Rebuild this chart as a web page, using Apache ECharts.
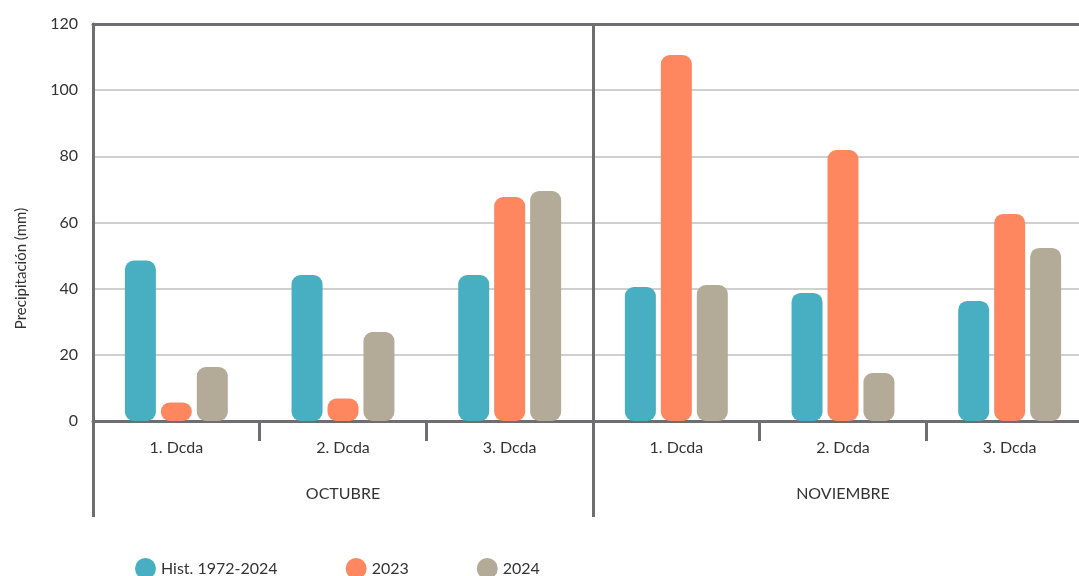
<!DOCTYPE html>
<html>
<head>
<meta charset="utf-8">
<script src="https://cdn.jsdelivr.net/npm/echarts@6/dist/echarts.min.js"></script>
<style>
  html, body { margin: 0; padding: 0; background: #fff; }
  #chart { width: 1079px; height: 576px; }
</style>
</head>
<body>
<div id="chart"></div>
<script>
// decadas por mes
const decadas = ['1. Dcda', '2. Dcda', '3. Dcda', '1. Dcda', '2. Dcda', '3. Dcda']
const meses = ['OCTUBRE', 'NOVIEMBRE']
const hist = [48.5, 44.1, 44.1, 40.5, 38.7, 36.3]
const anio2023 = [5.6, 6.8, 67.7, 110.6, 81.9, 62.6]
const anio2024 = [16.3, 26.9, 69.5, 41.1, 14.5, 52.3]

const lineColor = '#6d6d72'
const font = 'Lato'

const myChart = echarts.init(document.getElementById('chart'))

function barSerie(name, data, color) {
  return {
    name,
    type: 'bar',
    xAxisIndex: 0,
    barWidth: 31,
    barGap: '16%',
    itemStyle: { color, borderRadius: 9 },
    data,
  }
}

myChart.setOption({
  animation: false,
  textStyle: { fontFamily: font },
  // el area de trazado sigue un poco mas alla del borde derecho
  grid: { left: 93, width: 1000, top: 24, height: 397, outerBoundsMode: 'none', containLabel: false },
  legend: {
    left: 130,
    top: 553,
    icon: 'circle',
    itemWidth: 21,
    itemHeight: 21,
    itemGap: 68,
    textStyle: { fontSize: 16, color: '#333', fontFamily: font },
    data: ['Hist. 1972-2024', '2023', '2024'],
  },
  xAxis: [
    {
      type: 'category',
      data: decadas,
      axisLine: { lineStyle: { color: lineColor, width: 3 } },
      axisTick: { show: true, length: 20, lineStyle: { color: lineColor, width: 3 } },
      axisLabel: { margin: 19, fontSize: 16, color: '#333', fontFamily: font },
    },
    {
      // meses
      type: 'category',
      data: meses,
      position: 'bottom',
      axisLine: { show: false },
      axisTick: { show: true, length: 96, lineStyle: { color: lineColor, width: 3 } },
      axisLabel: { margin: 65, fontSize: 16, color: '#333', fontFamily: font },
    },
    {
      // linea superior y separador de meses
      type: 'category',
      data: meses,
      position: 'top',
      axisLine: { show: true, lineStyle: { color: lineColor, width: 3 } },
      axisTick: { show: true, inside: true, length: 397, lineStyle: { color: lineColor, width: 3 } },
      axisLabel: { show: false },
    },
  ],
  yAxis: {
    type: 'value',
    min: 0,
    max: 120,
    interval: 20,
    name: 'Precipitación (mm)',
    nameLocation: 'middle',
    nameGap: 64,
    nameTextStyle: { fontSize: 15, color: '#333', fontFamily: font, padding: [0, 92, 0, 0] },
    axisLine: { show: true, lineStyle: { color: lineColor, width: 3 } },
    axisLabel: { margin: 15, fontSize: 16, color: '#333', fontFamily: font },
    splitLine: { lineStyle: { color: '#c0c0c0', width: 1.5 } },
  },
  series: [
    barSerie('Hist. 1972-2024', hist, '#47afc1'),
    barSerie('2023', anio2023, '#ff875f'),
    barSerie('2024', anio2024, '#b3ab98'),
  ],
})
</script>
</body>
</html>
